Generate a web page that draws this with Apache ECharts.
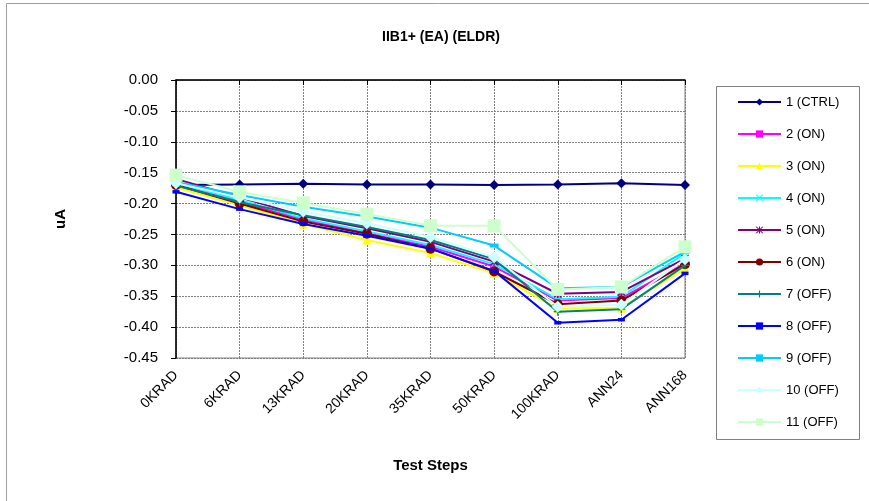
<!DOCTYPE html>
<html>
<head>
<meta charset="utf-8">
<script src="https://cdn.jsdelivr.net/npm/echarts@6/dist/echarts.min.js"></script>
<style>html,body{margin:0;padding:0;background:#fff;}#c{width:869px;height:501px;}</style>
</head>
<body>
<div id="c"></div>
<script>
var categories = ['0KRAD','6KRAD','13KRAD','20KRAD','35KRAD','50KRAD','100KRAD','ANN24','ANN168'];
var seriesNames = ['1 (CTRL)','2 (ON)','3 (ON)','4 (ON)','5 (ON)','6 (ON)','7 (OFF)','8 (OFF)','9 (OFF)','10 (OFF)','11 (OFF)'];
var s1 = [-0.170,-0.169,-0.168,-0.169,-0.169,-0.170,-0.169,-0.167,-0.170];
var s2 = [-0.168,-0.197,-0.226,-0.248,-0.270,-0.302,-0.357,-0.353,-0.297];
var s3 = [-0.174,-0.203,-0.233,-0.259,-0.280,-0.313,-0.370,-0.369,-0.305];
var s4 = [-0.167,-0.194,-0.224,-0.245,-0.267,-0.298,-0.355,-0.351,-0.280];
var s5 = [-0.160,-0.190,-0.220,-0.240,-0.262,-0.294,-0.346,-0.343,-0.289];
var s6 = [-0.170,-0.200,-0.229,-0.249,-0.273,-0.310,-0.363,-0.357,-0.298];
var s7 = [-0.171,-0.198,-0.219,-0.238,-0.259,-0.290,-0.375,-0.371,-0.300];
var s8 = [-0.181,-0.209,-0.233,-0.252,-0.273,-0.309,-0.393,-0.388,-0.313];
var s9 = [-0.165,-0.186,-0.205,-0.221,-0.239,-0.268,-0.337,-0.335,-0.278];
var s10 = [-0.167,-0.190,-0.213,-0.232,-0.254,-0.287,-0.367,-0.364,-0.290];
var s11 = [-0.154,-0.181,-0.199,-0.217,-0.236,-0.236,-0.339,-0.335,-0.270];
var yTicks = {min:-0.45, max:0, interval:0.05};

var allData = [s1,s2,s3,s4,s5,s6,s7,s8,s9,s10,s11];
var colors = ['#000080','#FF00FF','#FFFF00','#00FFFF','#800080','#800000','#008080','#0000FF','#00CCFF','#CCFFFF','#CCFFCC'];
var X = 'path://M0,1L1,0L5,4L9,0L10,1L6,5L10,9L9,10L5,6L1,10L0,9L4,5Z';
var PLUS = 'path://M4.2,0H5.8V4.2H10V5.8H5.8V10H4.2V5.8H0V4.2H4.2Z';
var STAR = 'path://M0,1L1,0L5,4L9,0L10,1L6,5L10,9L9,10L5,6L1,10L0,9L4,5ZM4.3,0H5.7V10H4.3Z';
var DASH8 = 'path://M0,0H7V3.5H0Z';
var DASH9 = 'path://M0,0H9V4H0Z';
var symbols = ['diamond','rect','triangle',X,STAR,'circle',PLUS,DASH8,DASH9,'diamond','rect'];
var sizes = [10,8,9,7,8,10,8,7,9,12,13];

var series = allData.map(function(d,i){
  return {
    name: seriesNames[i], type:'line', data:d,
    symbol: symbols[i], symbolSize: sizes[i], symbolKeepAspect:true, showAllSymbol:true,
    lineStyle:{color:colors[i], width:2},
    itemStyle:{color:colors[i], borderColor:colors[i], borderWidth:0},
    z: 2+i, animation:false
  };
});

var chart = echarts.init(document.getElementById('c'), null, {renderer:'canvas'});
chart.setOption({
  animation:false,
  backgroundColor:'#fff',
  textStyle:{fontFamily:'Liberation Sans, Arial, sans-serif'},
  title:{text:'IIB1+ (EA) (ELDR)', left:436, textAlign:'center', top:25,
    textStyle:{fontSize:14, fontWeight:'bold', color:'#000', fontFamily:'Liberation Sans, Arial, sans-serif'}},
  graphic:[
    {type:'rect', shape:{x:6.5,y:3.5,width:900,height:600}, style:{fill:'none', stroke:'#a0a0a0', lineWidth:1}, z:-10},
    {type:'rect', shape:{x:716.5,y:86.5,width:143,height:353}, style:{fill:'#fff', stroke:'#808080', lineWidth:1}, z:-5}
  ],
  legend:{
    orient:'vertical', left:737, top:95, itemGap:18, itemWidth:43, itemHeight:9,
    data: seriesNames,
    textStyle:{fontSize:13, color:'#000', lineHeight:14, fontFamily:'Liberation Sans, Arial, sans-serif'},
    padding:0
  },
  grid:{left:176, top:80, right:184, bottom:143, show:true, borderColor:'#808080', borderWidth:1, containLabel:false},
  xAxis:{
    type:'category', data:categories, boundaryGap:false,
    name:'Test Steps', nameLocation:'middle', nameGap:100,
    nameTextStyle:{fontSize:15, fontWeight:'bold', color:'#000'},
    axisLine:{lineStyle:{color:'#000', width:1.5}},
    axisTick:{show:true, length:5, alignWithLabel:true, lineStyle:{color:'#000'}},
    axisLabel:{rotate:45, fontSize:14, color:'#000', margin:15, interval:0},
    splitLine:{show:true, lineStyle:{color:'#808080', type:[2,1], width:1}}
  },
  yAxis:{
    type:'value', min:yTicks.min, max:yTicks.max, interval:yTicks.interval,
    name:'uA', nameLocation:'middle', nameGap:108, nameRotate:90,
    nameTextStyle:{fontSize:15, fontWeight:'bold', color:'#000'},
    axisLine:{show:true, lineStyle:{color:'#000', width:1.5}},
    axisTick:{show:true, length:5, lineStyle:{color:'#000'}},
    axisLabel:{fontSize:15, color:'#000', margin:18, formatter:function(v){return v.toFixed(2);}},
    splitLine:{show:true, lineStyle:{color:'#808080', type:[2,1], width:1}}
  },
  series: series
});
</script>
</body>
</html>
